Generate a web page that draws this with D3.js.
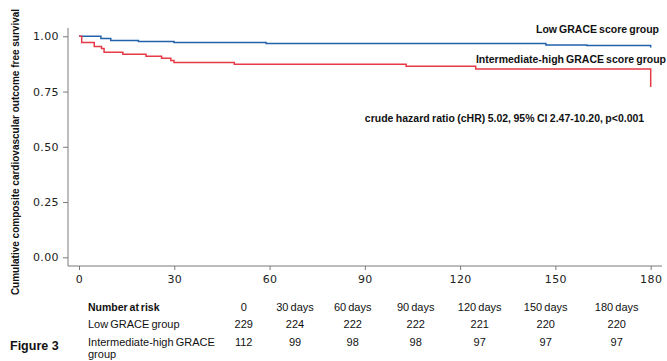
<!DOCTYPE html>
<html>
<head>
<meta charset="utf-8">
<script src="https://cdn.jsdelivr.net/npm/d3@7"></script>
<style>
  body { margin: 0; background: #fff; }
  svg { display: block; }
  .tick text { font-family: "DejaVu Sans", sans-serif; font-size: 11px; fill: #222; letter-spacing: 0.4px; }
  .lbl { font-family: "Liberation Sans", Arial, sans-serif; fill: #111; }
</style>
</head>
<body>
<div id="chart"></div>
<script>
// Kaplan-Meier steps (day, survival)
const lowDays  = [0, 6.9, 10, 18.7, 29.9, 58.9, 147, 159.9, 180];
const lowSurv  = [1, 0.990, 0.981, 0.976, 0.972, 0.967, 0.961, 0.958, 0.949];
const highDays = [0, 0.85, 4.8, 7.1, 7.9, 13.8, 21.1, 26, 28.9, 29.9, 48.9, 103, 124.9, 180];
const highSurv = [1, 0.972, 0.954, 0.945, 0.928, 0.919, 0.910, 0.901, 0.890, 0.881, 0.873, 0.864, 0.852, 0.771];

const xTicks = [0, 30, 60, 90, 120, 150, 180];
const yTicks = [0, 0.25, 0.5, 0.75, 1];

const riskHeader = ["0", "30 days", "60 days", "90 days", "120 days", "150 days", "180 days"];
const riskLow  = [229, 224, 222, 222, 221, 220, 220];
const riskHigh = [112, 99, 98, 98, 97, 97, 97];

const width = 667, height = 361;

const svg = d3.select('#chart').append('svg')
  .attr('width', width)
  .attr('height', height);

const x = d3.scaleLinear().domain([0, 180]).range([79, 650.7]);
const y = d3.scaleLinear().domain([0, 1]).range([257.3, 36.3]);

// axes
const xAxis = d3.axisBottom(x).tickValues(xTicks).tickSize(4).tickPadding(5);
const yAxis = d3.axisLeft(y).tickValues(yTicks).tickSize(5).tickPadding(4).tickFormat(d3.format('.2f'));

const gx = svg.append('g').attr('transform', 'translate(0,266)').call(xAxis);
const gy = svg.append('g').attr('transform', 'translate(68,0)').call(yAxis);
gx.select('.domain').remove();
gy.select('.domain').remove();
svg.selectAll('.tick line').attr('stroke', '#7a7a7a');

svg.append('line')
  .attr('x1', 68).attr('x2', 662).attr('y1', 266).attr('y2', 266)
  .attr('stroke', '#7a7a7a');
svg.append('line')
  .attr('x1', 68).attr('x2', 68).attr('y1', 28).attr('y2', 266)
  .attr('stroke', '#7a7a7a');

// survival curves
const line = d3.line()
  .x(d => x(d[0]))
  .y(d => y(d[1]))
  .curve(d3.curveStepAfter);

svg.append('path')
  .datum(lowDays.map((d, i) => [d, lowSurv[i]]))
  .attr('d', line)
  .attr('fill', 'none')
  .attr('stroke', '#2262ab')
  .attr('stroke-width', 1.5);

svg.append('path')
  .datum(highDays.map((d, i) => [d, highSurv[i]]))
  .attr('d', line)
  .attr('fill', 'none')
  .attr('stroke', '#e63a46')
  .attr('stroke-width', 1.5);

// labels
svg.append('text').attr('class', 'lbl')
  .attr('transform', 'translate(19,152) rotate(-90)')
  .attr('text-anchor', 'middle')
  .style('font-size', '10px').style('font-weight', 'bold')
  .text('Cumulative composite cardiovascular outcome free survival');

svg.append('text').attr('class', 'lbl')
  .attr('x', 659).attr('y', 32.5).attr('text-anchor', 'end')
  .style('font-size', '10.5px').style('font-weight', 'bold').style('word-spacing', '-0.8px')
  .text('Low GRACE score group');

svg.append('text').attr('class', 'lbl')
  .attr('x', 666).attr('y', 62.5).attr('text-anchor', 'end')
  .style('font-size', '10.5px').style('font-weight', 'bold').style('word-spacing', '-0.8px')
  .text('Intermediate-high GRACE score group');

svg.append('text').attr('class', 'lbl')
  .attr('x', 504.5).attr('y', 121.5).attr('text-anchor', 'middle')
  .style('font-size', '10.5px').style('font-weight', 'bold').style('word-spacing', '-0.5px')
  .text('crude hazard ratio (cHR) 5.02, 95% CI 2.47-10.20, p<0.001');

// number at risk table
const colX = [243.7, 295, 352.7, 415.7, 479.7, 545.7, 616.7];
const rowY = [310.5, 328, 345.5];

svg.append('text').attr('class', 'lbl')
  .attr('x', 88).attr('y', rowY[0])
  .style('font-size', '10.5px').style('font-weight', 'bold').style('word-spacing', '-1px')
  .text('Number at risk');

svg.append('text').attr('class', 'lbl')
  .attr('x', 88).attr('y', rowY[1])
  .style('font-size', '11px').style('word-spacing', '-1px')
  .text('Low GRACE group');

const hiLbl = svg.append('text').attr('class', 'lbl')
  .attr('x', 88).attr('y', rowY[2])
  .style('font-size', '11px').style('word-spacing', '-1px');
hiLbl.append('tspan').text('Intermediate-high GRACE');
hiLbl.append('tspan').attr('x', 88).attr('dy', 12.5).text('group');

[riskHeader, riskLow, riskHigh].forEach((row, r) => {
  svg.append('g').selectAll('text')
    .data(row).enter()
    .append('text').attr('class', 'lbl')
    .attr('x', (d, i) => colX[i])
    .attr('y', rowY[r])
    .attr('text-anchor', 'middle')
    .style('font-size', '11px').style('word-spacing', '-1px')
    .text(d => d);
});

svg.append('text').attr('class', 'lbl')
  .attr('x', 10).attr('y', 350)
  .style('font-size', '12.5px').style('font-weight', 'bold')
  .text('Figure 3');
</script>
</body>
</html>
